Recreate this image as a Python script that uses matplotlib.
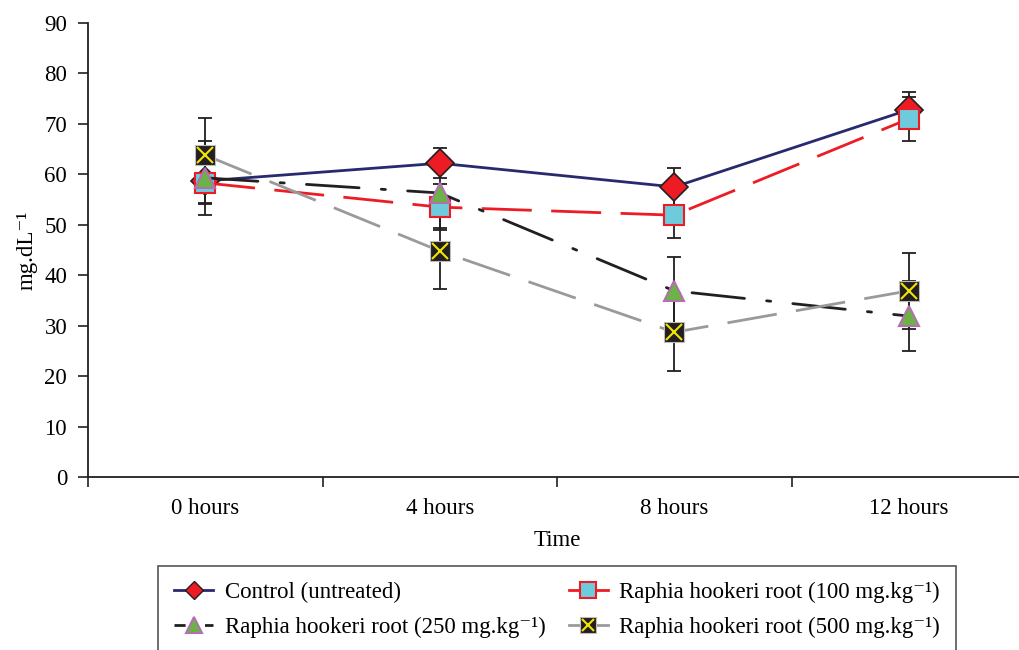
import matplotlib
matplotlib.use("Agg")
import matplotlib.pyplot as plt
from matplotlib.lines import Line2D

plt.rcParams['font.family'] = ['Liberation Serif', 'DejaVu Serif']
plt.rcParams['font.size'] = 16.5

# data
times = ["0 hours", "4 hours", "8 hours", "12 hours"]
control = [58.7, 62.2, 57.5, 72.8]
control_err = [4.3, 3.0, 3.7, 3.5]
r100 = [58.3, 53.5, 51.9, 71.0]
r100_err = [4.2, 4.5, 4.5, 4.4]
r250 = [59.3, 56.3, 36.9, 31.9]
r250_err = [7.3, 7.0, 6.7, 7.0]
r500 = [63.8, 44.8, 28.7, 36.9]
r500_err = [7.4, 7.5, 7.7, 7.5]

navy = "#28296e"
red = "#ed1c24"
cyan = "#6dcbdb"
green = "#6ab344"
purple = "#b46fb3"
gray = "#9a9a9a"
yellow = "#f2e500"
ink = "#231f20"

fig = plt.figure(figsize=(10.19, 6.5), dpi=100)
ax = fig.add_axes([88/1019, 1 - 477/650, 938/1019, 454/650])
x = list(range(len(times)))

eb = dict(fmt='none', ecolor=ink, elinewidth=1.3, capsize=5, capthick=1.3, zorder=2)
ax.errorbar(x, control, yerr=control_err, **eb)
ax.errorbar(x, r100, yerr=r100_err, **eb)
ax.errorbar(x, r250, yerr=r250_err, **eb)
ax.errorbar(x, r500, yerr=r500_err, **eb)

# later series sit on top, as in the original
lw = 2.0
ax.plot(x, control, color=navy, lw=lw, marker='D', ms=14, mfc=red, mec=ink, mew=1.2, zorder=3)
ax.plot(x, r100, color=red, lw=lw, ls=(0, (18, 7)), marker='s', ms=15, mfc=cyan, mec=red, mew=1.5, zorder=4)
ax.plot(x, r250, color=ink, lw=lw, ls=(0, (19, 8, 1.5, 8)), dash_capstyle='round',
        marker='^', ms=15, mfc=green, mec=purple, mew=1.5, zorder=5)
ax.plot(x, r500, color=gray, lw=lw, ls=(0, (18, 7)), marker='s', ms=15, mfc=ink, mec="#bdbdbd", mew=0.8, zorder=6)
ax.plot(x, r500, ls='none', marker='x', ms=12, mec=yellow, mew=1.5, zorder=6.5)

ax.set_xlim(-0.5, 3.5)
ax.set_ylim(0, 90)
ax.set_yticks(range(0, 91, 10))
ax.set_xticks(x)
ax.set_xticklabels(times)
ax.set_xticks([-0.5, 0.5, 1.5, 2.5, 3.5], minor=True)
ax.tick_params(axis='x', which='major', length=0, pad=15)
ax.tick_params(axis='x', which='minor', length=7, width=1.2, color=ink)
ax.tick_params(axis='y', length=7, width=1.2, color=ink, pad=8)
for s in ['top', 'right']:
    ax.spines[s].set_visible(False)
for s in ['left', 'bottom']:
    ax.spines[s].set_linewidth(1.3)
    ax.spines[s].set_color(ink)

ax.set_xlabel("Time", labelpad=8)
ax.set_ylabel("mg.dL\u207b\u00b9", labelpad=5)

h_control = Line2D([], [], color=navy, lw=lw, marker='D', ms=9, mfc=red, mec=ink)
h100 = Line2D([], [], color=red, lw=lw, marker='s', ms=11, mfc=cyan, mec=red, mew=1.5)
h250 = Line2D([], [], color=ink, lw=lw, ls=(0, (4, 3, 1, 3)), marker='^', ms=11, mfc=green, mec=purple, mew=1.5)
h500a = Line2D([], [], color=gray, lw=lw, marker='s', ms=11, mfc=ink, mec="#bdbdbd", mew=0.8)
h500b = Line2D([], [], ls='none', marker='x', ms=8, mec=yellow, mew=1.5)

leg = fig.legend([h_control, h250, h100, (h500a, h500b)],
                 ["Control (untreated)", "Raphia hookeri root (250 mg.kg\u207b\u00b9)",
                  "Raphia hookeri root (100 mg.kg\u207b\u00b9)", "Raphia hookeri root (500 mg.kg\u207b\u00b9)"],
                 ncol=2, loc='upper left', bbox_to_anchor=(158/1019, 1 - 566/650), borderaxespad=0,
                 frameon=True, fancybox=False, edgecolor="#555555", framealpha=1,
                 handlelength=1.7, handletextpad=0.52, columnspacing=1.0,
                 borderpad=0.7, labelspacing=0.6, fontsize=16.5)
leg.get_frame().set_linewidth(1.2)

fig.savefig("out.png", dpi=100)
